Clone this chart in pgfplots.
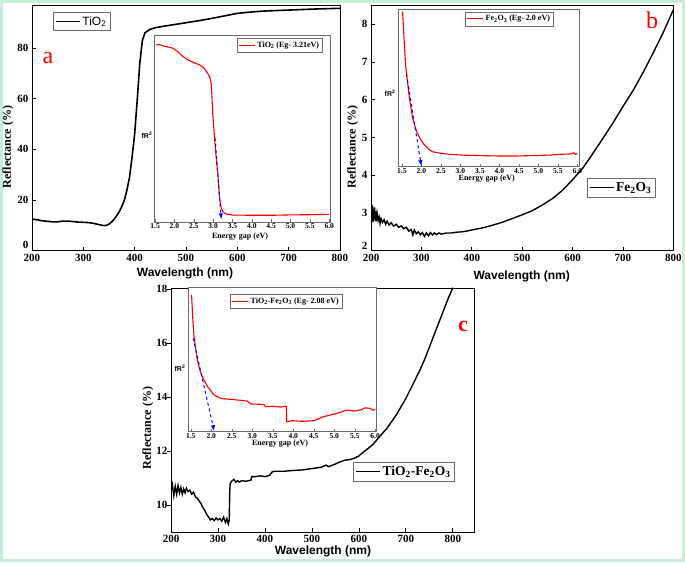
\documentclass[border=0pt]{standalone}
\usepackage{fontspec}
\setmainfont{Liberation Serif}
\setsansfont{Liberation Sans}
\usepackage{pgfplots}
\pgfplotsset{compat=1.18}
\definecolor{mint}{RGB}{196,240,218}
\definecolor{framegray}{RGB}{110,110,110}

\pgfplotsset{
  mainax/.style={scale only axis, anchor=south west,
    axis line style={line width=0.9pt}, tick style={black, line width=0.8pt},
    tick align=inside, xtick pos=bottom, ytick pos=left, major tick length=4pt,
    tick label style={font=\fontsize{11}{12}\selectfont\bfseries},
    /pgf/number format/assume math mode=true,
    xmin=200, xtick={200,300,...,800},
    legend cell align=left,
    legend style={draw=framegray, line width=0.6pt, inner sep=2pt, row sep=0pt},
    legend image code/.code={\draw[#1, line width=1.2pt] (0pt,0pt) -- (24pt,0pt);}},
  insetax/.style={scale only axis, anchor=south west,
    axis background/.style={fill=white},
    axis line style={framegray, line width=0.7pt},
    ytick=\empty, xtick={1.5,2,...,6}, xtick pos=bottom, tick align=inside,
    major tick length=2.5pt, tick style={framegray},
    xticklabel style={font=\fontsize{7.5}{8}\selectfont\bfseries, inner sep=1.5pt},
    /pgf/number format/fixed, /pgf/number format/fixed zerofill,
    /pgf/number format/precision=1, /pgf/number format/assume math mode=true,
    ymin=0, ymax=100,
    legend cell align=left,
    legend style={draw=framegray, line width=0.5pt, inner sep=1.5pt, row sep=0pt,
      font=\fontsize{8}{9}\selectfont\bfseries},
    legend image code/.code={\draw[#1, line width=0.9pt] (0pt,0pt) -- (16pt,0pt);}}
}

\begin{document}
\begin{tikzpicture}
\useasboundingbox (0,0) rectangle (685pt,562pt);
\fill[mint] (0,0) rectangle (685pt,562pt);
\fill[white] (3pt,3pt) rectangle (682pt,559pt);

% ---------- panel a ----------
\begin{axis}[mainax, at={(32pt,311.3pt)}, width=308pt, height=245.7pt,
  xmax=800, ymin=0, ymax=97, ytick={20,40,...,80},
  extra y ticks={0}, extra y tick style={yticklabel style={yshift=6pt}},
  legend style={at={(0.068,0.971)}, anchor=north west,
    font=\sffamily\fontsize{12}{13}\selectfont}]
\addplot[black, line width=1.6pt] coordinates {
 (200,12.5) (210,12.2) (220,11.8) (230,11.6) (240,11.4) (250,11.4) (260,11.7)
 (270,11.7) (280,11.5) (290,11.3) (300,11.2) (310,11.1) (320,10.8) (330,10.3)
 (340,9.9) (345,10.0) (350,10.5) (355,11.3) (360,12.4) (365,13.8) (370,15.4)
 (375,17.5) (380,20) (385,24) (390,29) (395,37) (400,46) (405,59.5) (410,74)
 (415,83) (420,86) (430,87.4) (440,88) (450,88.4) (475,89.2) (500,90) (525,90.8)
 (550,91.7) (575,92.7) (600,93.7) (625,94.2) (650,94.6) (700,95) (750,95.4) (800,95.7)};
\addlegendentry{TiO\textsubscript{2}}
\end{axis}

\begin{axis}[insetax, at={(154.3pt,340pt)}, width=175.7pt, height=187pt,
  xmin=1.48, xmax=6.02,
  legend style={at={(0.469,0.982)}, anchor=north west}]
\addplot[red, line width=1.1pt] coordinates {
 (1.53,94.7) (1.6,95) (1.7,94.2) (1.8,93.8) (1.96,92.9) (2.08,91.3) (2.17,89.3)
 (2.28,87.6) (2.39,86.3) (2.52,85.1) (2.65,84) (2.76,82.4) (2.86,79.5) (2.92,77.2)
 (2.95,74.2) (2.97,67) (2.99,58) (3.04,43.9) (3.08,34) (3.12,26) (3.17,11.8)
 (3.21,7.5) (3.25,5.5) (3.35,4.2) (3.51,3.7) (4.0,3.6) (4.55,3.6) (5.0,3.8)
 (5.5,3.9) (6.0,4.1)};
\addlegendentry{TiO\textsubscript{2} (Eg- 3.21eV)}
\addplot[blue, dashed, line width=1pt, -latex, forget plot] coordinates {(3.05,45) (3.21,1.5)};
\end{axis}

% ---------- panel b ----------
\begin{axis}[mainax, at={(371pt,311.3pt)}, width=302.3pt, height=245.7pt,
  xmax=800, ymin=2, ymax=8.51, ytick={3,4,...,8},
  extra y ticks={2}, extra y tick style={yticklabel style={yshift=5pt}},
  legend style={at={(0.7135,0.2947)}, anchor=north west,
    font=\fontsize{13.5}{14}\selectfont\bfseries}]
\addplot[black, line width=1.4pt] coordinates {
 (200,3.0) (201,3.25) (202,2.8) (203,3.2) (204,2.75) (205,3.1) (206,2.85)
 (207,3.15) (208,2.8) (209,3.05) (210,2.78) (212,3.0) (214,2.8) (216,2.9)
 (218,2.72) (220,2.85) (223,2.75) (226,2.82) (229,2.7) (232,2.78) (236,2.68)
 (240,2.74) (245,2.65) (250,2.7) (255,2.62) (260,2.66) (265,2.58) (270,2.62)
 (275,2.52) (280,2.56) (283,2.42) (286,2.55) (290,2.45) (294,2.5) (298,2.42)
 (302,2.48) (306,2.38) (310,2.47) (314,2.4) (318,2.48) (322,2.42) (326,2.47)
 (330,2.43) (335,2.47) (340,2.44) (350,2.47) (360,2.47) (370,2.49) (380,2.5)
 (390,2.52) (400,2.55) (420,2.6) (440,2.67) (460,2.75) (480,2.85) (500,2.95)
 (520,3.06) (540,3.21) (560,3.38) (580,3.6) (600,3.88) (620,4.18) (640,4.57)
 (660,4.97) (680,5.38) (700,5.82) (720,6.24) (740,6.72) (760,7.24) (780,7.78)
 (800,8.38)};
\addlegendentry{Fe\textsubscript{2}O\textsubscript{3}}
\end{axis}

\begin{axis}[insetax, at={(398.3pt,395.3pt)}, width=181pt, height=157.4pt,
  xmin=1.41, xmax=6.05,
  legend style={at={(0.3685,0.985)}, anchor=north west}]
\addplot[red, line width=1.1pt] coordinates {
 (1.52,98.5) (1.56,80) (1.6,63.5) (1.65,53) (1.69,44.5) (1.77,31.8) (1.84,25.5)
 (1.9,21.2) (2.0,16.5) (2.08,13.8) (2.18,11.2) (2.29,9.5) (2.5,8.5) (2.72,7.9)
 (3.1,7.3) (3.58,7.0) (4.0,6.8) (4.45,6.8) (4.9,7.1) (5.31,7.4) (5.6,7.9)
 (5.85,8.1) (5.9,8.9) (5.95,7.8) (6.0,8.5)};
\addlegendentry{Fe\textsubscript{2}O\textsubscript{3} (Eg- 2.0 eV)}
\addplot[blue, dashed, line width=1pt, -latex, forget plot] coordinates {(1.62,58.8) (2.0,0.5)};
\end{axis}

% ---------- panel c ----------
\begin{axis}[mainax, at={(171pt,30pt)}, width=303pt, height=244pt,
  xmax=845, ymin=9, ymax=18.04, ytick={10,12,...,18},
  ytick style={/pgfplots/tick align=outside},
  legend style={at={(0.601,0.288)}, anchor=north west,
    font=\fontsize{13.5}{14}\selectfont\bfseries}]
\addplot[black, line width=1.4pt] coordinates {
 (200,10.5) (203,10.75) (206,10.35) (209,10.7) (212,10.4) (215,10.72) (218,10.45)
 (221,10.65) (224,10.4) (227,10.6) (230,10.45) (233,10.62) (236,10.5) (240,10.55)
 (244,10.4) (248,10.48) (252,10.3) (256,10.25) (260,10.15) (264,10.05) (268,9.9)
 (272,9.8) (276,9.65) (280,9.55) (284,9.45) (288,9.5) (292,9.42) (296,9.52)
 (300,9.45) (304,9.5) (308,9.4) (312,9.55) (316,9.35) (319,9.5) (322,9.3)
 (324,9.45) (325,10.5) (326,10.8) (330,10.9) (334,10.95) (338,10.85) (342,10.9)
 (346,10.85) (350,10.9) (360,10.88) (370,10.92) (372,11.05) (380,11.05)
 (390,11.08) (400,11.05) (410,11.1) (415,11.22) (420,11.25) (440,11.25)
 (460,11.28) (480,11.3) (500,11.35) (520,11.4) (530,11.48) (535,11.42)
 (540,11.45) (550,11.52) (560,11.6) (570,11.66) (580,11.68) (590,11.73)
 (600,11.82) (610,11.97) (620,12.1) (630,12.25) (640,12.45) (650,12.65)
 (660,12.85) (670,13.1) (680,13.35) (690,13.65) (700,13.95) (710,14.3)
 (720,14.65) (730,15.0) (740,15.4) (750,15.85) (760,16.3) (770,16.75)
 (780,17.2) (790,17.65) (800,18.05)};
\addlegendentry{TiO\textsubscript{2}-Fe\textsubscript{2}O\textsubscript{3}}
\end{axis}

\begin{axis}[insetax, at={(188.3pt,130.3pt)}, width=187.7pt, height=144.4pt,
  xmin=1.44, xmax=6.02,
  legend style={at={(0.222,0.954)}, anchor=north west}]
\addplot[red, line width=1.1pt] coordinates {
 (1.52,94.7) (1.55,78) (1.58,65.8) (1.66,49.7) (1.72,43) (1.78,38.1) (1.91,31.2)
 (2.07,25.4) (2.23,23.1) (2.47,22.4) (2.7,21.8) (2.88,21.2) (2.96,19.2)
 (3.28,18.9) (3.32,17.3) (3.5,17.6) (3.7,17.0) (3.81,17.8) (3.83,17.3)
 (3.84,6.9) (3.97,7.6) (4.2,7.2) (4.5,7.6) (4.74,10.4) (4.9,11.5) (5.07,12.7)
 (5.31,15) (5.5,14.3) (5.64,15) (5.75,16.5) (5.88,16.2) (5.95,14.8) (6.0,15.5)};
\addlegendentry{TiO\textsubscript{2}-Fe\textsubscript{2}O\textsubscript{3} (Eg- 2.08 eV)}
\addplot[blue, dashed, line width=1pt, -latex, forget plot] coordinates {(1.56,64.7) (2.07,0.5)};
\end{axis}

% ---------- labels ----------
\newcommand{\px}[2]{(#1pt,{562pt-#2pt})}
\node[rotate=90, font=\fontsize{12}{13}\selectfont\bfseries] at \px{8}{147} {Reflectance (\%)};
\node[font=\sffamily\fontsize{12}{13}\selectfont\bfseries] at \px{185}{273} {Wavelength (nm)};
\node[rotate=90, font=\fontsize{12}{13}\selectfont\bfseries] at \px{352.7}{147} {Reflectance (\%)};
\node[font=\sffamily\fontsize{12}{13}\selectfont\bfseries] at \px{521.7}{276} {Wavelength (nm)};
\node[rotate=90, font=\fontsize{12}{13}\selectfont\bfseries] at \px{148}{428} {Reflectance (\%)};
\node[font=\sffamily\fontsize{12}{13}\selectfont\bfseries] at \px{323}{551.7} {Wavelength (nm)};

\node[font=\fontsize{8}{9}\selectfont\bfseries] at \px{240}{237} {Energy gap (eV)};
\node[font=\fontsize{8}{9}\selectfont\bfseries] at \px{486.7}{178.3} {Energy gap (eV)};
\node[font=\fontsize{8}{9}\selectfont\bfseries] at \px{280}{443.3} {Energy gap (eV)};
\node[font=\sffamily\fontsize{7}{8}\selectfont\bfseries] at \px{147}{135} {fR\textsuperscript{2}};
\node[font=\sffamily\fontsize{7}{8}\selectfont\bfseries] at \px{390}{93} {fR\textsuperscript{2}};
\node[font=\sffamily\fontsize{7}{8}\selectfont\bfseries] at \px{180}{368.3} {fR\textsuperscript{2}};

\node[red, font=\fontsize{24}{26}\selectfont] at \px{48}{58} {a};
\node[red, font=\fontsize{24}{26}\selectfont] at \px{652}{20} {b};
\node[red, font=\fontsize{22}{24}\selectfont\bfseries] at \px{463}{326} {c};
\end{tikzpicture}
\end{document}
